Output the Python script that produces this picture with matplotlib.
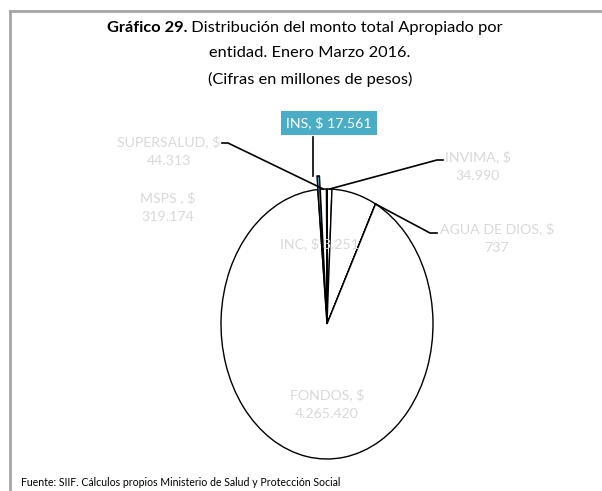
import numpy as np
import matplotlib.pyplot as plt
from matplotlib.lines import Line2D

# datos (millones de pesos), orden horario desde arriba
entidades = ["INVIMA", "MSPS", "AGUA DE DIOS", "FONDOS", "INS", "SUPERSALUD", "INC"]
valores = [34990, 319174, 737, 4265420, 17561, 44313, 3251]
etiquetas = ["INVIMA, $\n34.990", "MSPS , $\n319.174", "AGUA DE DIOS, $\n737",
             "FONDOS, $\n4.265.420", "INS, $ 17.561", "SUPERSALUD, $\n44.313", "INC, $ 3.251"]

FONT = ["Lato", "DejaVu Sans"]
GRIS = "#d9d9d9"
AZUL = "#4bacc6"

W, H = 602, 491
fig = plt.figure(figsize=(W / 100, H / 100), dpi=100)

# marco gris (arriba e izquierda)
fig.add_artist(Line2D([10 / W, 1], [1 - 11 / H, 1 - 11 / H], color="#a6a6a6", lw=2))
fig.add_artist(Line2D([10 / W, 10 / W], [0, 1 - 11 / H], color="#a6a6a6", lw=2))

# ejes del pastel (elipse)
cx, cy, rx, ry = 327, 324, 106, 135
ax = fig.add_axes([(cx - rx) / W, 1 - (cy + ry) / H, 2 * rx / W, 2 * ry / H])
colores = [AZUL if e == "INS" else "white" for e in entidades]
explode = [0.1 if e == "INS" else 0 for e in entidades]
wedges, _ = ax.pie(valores, colors=colores, startangle=90, counterclock=False,
                   explode=explode, wedgeprops=dict(edgecolor="black", linewidth=1))
ax.set_aspect("auto")
ax.set_xlim(-1, 1)
ax.set_ylim(-1, 1)
ax.axis("off")


def px(x, y):
    # pixel de la imagen -> coordenadas de datos
    return (x - cx) / rx, (cy - y) / ry


def borde(i, r=1.0):
    w = wedges[i]
    t = np.deg2rad((w.theta1 + w.theta2) / 2)
    return w.center[0] + r * np.cos(t), w.center[1] + r * np.sin(t)


# etiquetas grises
pos = {"SUPERSALUD": (169, 151), "MSPS": (168, 207), "INVIMA": (478, 166),
       "AGUA DE DIOS": (497, 238), "INC": (320, 244), "FONDOS": (327, 404)}
for i, e in enumerate(entidades):
    if e in pos:
        x, y = px(*pos[e])
        ax.text(x, y, etiquetas[i], ha="center", va="center", color=GRIS, fontsize=10.2,
                family=FONT, linespacing=1.7, clip_on=False)

# líneas guía
guias = {"SUPERSALUD": [(222, 143), (228, 143)], "INVIMA": [(443, 160), (437, 160)],
         "AGUA DE DIOS": [(437, 233), (430, 233)], "INS": [(313, 137)]}
for e, pts in guias.items():
    i = entidades.index(e)
    xs = [px(*p)[0] for p in pts]
    ys = [px(*p)[1] for p in pts]
    bx, by = borde(i)
    if e == "INS":
        xs.append(xs[0])
        ys.append(by)
    else:
        xs.append(bx)
        ys.append(by)
    ax.plot(xs, ys, color="black", lw=1.2, clip_on=False)

# etiqueta INS con caja
i = entidades.index("INS")
x, y = px(329, 123)
ax.text(x, y, etiquetas[i], ha="center", va="center", color="white", fontsize=10.2,
        family=FONT, clip_on=False,
        bbox=dict(boxstyle="square,pad=0.4", facecolor=AZUL, edgecolor="none"))

# título
r = fig.canvas.get_renderer()
t1 = fig.text(0, 1 - 28 / H, "Gráfico 29.", fontsize=11.8, fontweight="bold", family=FONT, va="center")
t2 = fig.text(0, 1 - 28 / H, " Distribución del monto total Apropiado por", fontsize=11.8,
              family=FONT, va="center")
w1 = t1.get_window_extent(r).width
w2 = t2.get_window_extent(r).width
x0 = 305 - (w1 + w2) / 2
t1.set_x(x0 / W)
t2.set_x((x0 + w1) / W)
fig.text(310 / W, 1 - 53 / H, "entidad. Enero Marzo 2016.", fontsize=11.8, family=FONT,
         ha="center", va="center")
fig.text(310 / W, 1 - 79 / H, "(Cifras en millones de pesos)", fontsize=11.8, family=FONT,
         ha="center", va="center")

# fuente
fig.text(21 / W, 1 - 482 / H, "Fuente: SIIF. Cálculos propios Ministerio de Salud y Protección Social",
         fontsize=7.6, family=FONT, va="center")

fig.savefig("out.png", dpi=100)
